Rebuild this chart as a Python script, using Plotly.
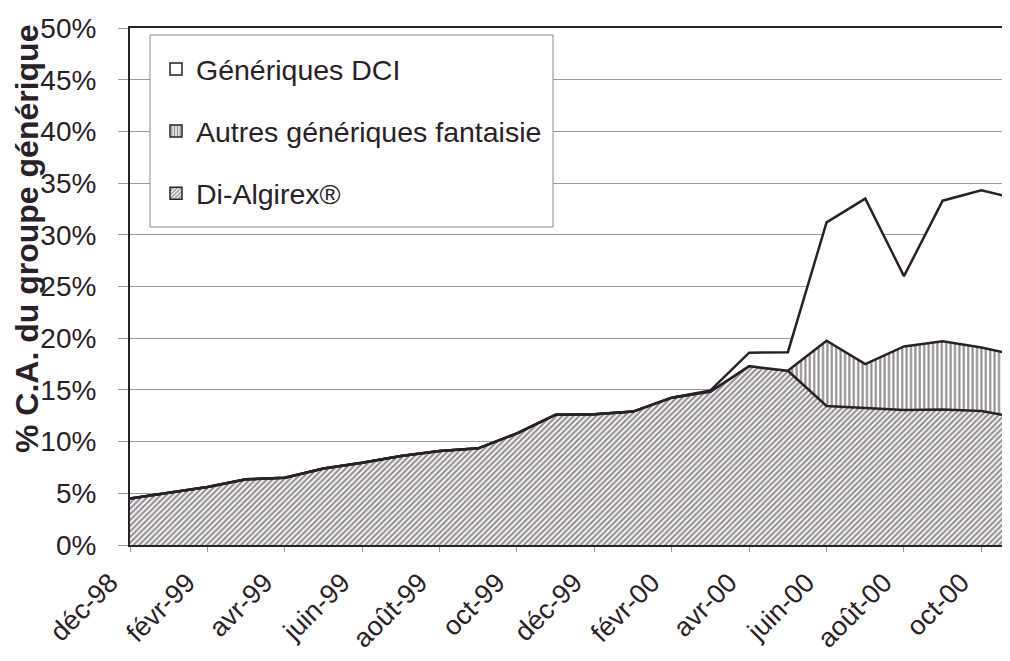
import plotly.graph_objects as go

months = ["déc-98", "janv-99", "févr-99", "mars-99", "avr-99", "mai-99", "juin-99",
          "juil-99", "août-99", "sept-99", "oct-99", "nov-99", "déc-99", "janv-00",
          "févr-00", "mars-00", "avr-00", "mai-00", "juin-00", "juil-00", "août-00",
          "sept-00", "oct-00", "nov-00"]

di_algirex = [4.5, 5.05, 5.6, 6.35, 6.5, 7.4, 7.95, 8.6, 9.1, 9.35, 10.8, 12.6,
              12.65, 12.9, 14.25, 14.85, 17.3, 16.85, 13.45, 13.25, 13.05, 13.1, 12.95, 12.3]
autres_fantaisie = [0, 0, 0, 0, 0, 0, 0, 0, 0, 0, 0, 0,
                    0, 0, 0, 0, 0, 0, 6.3, 4.25, 6.15, 6.6, 6.15, 6.0]
generiques_dci = [0, 0, 0, 0, 0, 0, 0, 0, 0, 0, 0, 0,
                  0, 0, 0, 0.1, 1.3, 1.8, 11.45, 16.0, 6.8, 13.6, 15.2, 15.1]

tick_labels = ["déc-98", "févr-99", "avr-99", "juin-99", "août-99", "oct-99",
               "déc-99", "févr-00", "avr-00", "juin-00", "août-00", "oct-00"]
y_ticks = [0, 5, 10, 15, 20, 25, 30, 35, 40, 45, 50]
y_tick_labels = ["0%", "5%", "10%", "15%", "20%", "25%", "30%", "35%", "40%", "45%", "50%"]

INK = "#2a2128"
FONT = "Liberation Sans, Arial, sans-serif"

PAT_DI = dict(shape="/", fgcolor=INK, bgcolor="white", size=4, solidity=0.55)
PAT_AU = dict(shape="|", fgcolor=INK, bgcolor="white", size=4.4, solidity=0.5)

fig = go.Figure()
fig.add_trace(go.Scatter(
    x=months, y=di_algirex, name="Di-Algirex®", stackgroup="s", showlegend=False,
    mode="lines", line=dict(color=INK, width=2.5),
    fillcolor="white", fillpattern=PAT_DI,
))
fig.add_trace(go.Scatter(
    x=months, y=autres_fantaisie, name="Autres génériques fantaisie", stackgroup="s",
    showlegend=False,
    mode="lines", line=dict(color=INK, width=2.5),
    fillcolor="white", fillpattern=PAT_AU,
))
fig.add_trace(go.Scatter(
    x=months, y=generiques_dci, name="Génériques DCI", stackgroup="s", showlegend=False,
    mode="lines", line=dict(color=INK, width=2.5),
    fillcolor="white",
))

# legend entries (square swatches)
legend_items = [("Génériques DCI", None, 1),
                ("Autres génériques fantaisie", PAT_AU, 2),
                ("Di-Algirex®", PAT_DI, 3)]
for name, pat, rank in legend_items:
    marker = dict(color="white", line=dict(color=INK, width=1.5))
    if pat is not None:
        marker["pattern"] = dict(shape=pat["shape"], fgcolor=INK, bgcolor="white",
                                 size=3.5, solidity=0.55)
    fig.add_trace(go.Bar(x=[months[0]], y=[None], name=name, marker=marker,
                         legendgroup=name, legendrank=rank, showlegend=True,
                         hoverinfo="skip"))

# legend box background
fig.add_shape(type="rect", xref="paper", yref="paper",
              x0=(150 - 130) / 880, x1=(553 - 130) / 880,
              y0=1 - (227 - 28) / 517, y1=1 - (35 - 28) / 517,
              fillcolor="white", line=dict(color="#8a8a8a", width=1), layer="above")

# y-axis title (placed as in the reference)
fig.add_annotation(text="<b>% C.A. du groupe générique</b>", xref="paper", yref="paper",
                   x=(27 - 130) / 880, y=1 - (239 - 28) / 517, textangle=-90,
                   showarrow=False, xanchor="center", yanchor="middle",
                   font=dict(size=32, family=FONT, color=INK))

# page body has an 8px margin: figure is 8px smaller and offset accordingly
fig.update_layout(
    width=1002, height=653,
    margin=dict(l=122, r=0, t=20, b=116),
    paper_bgcolor="white", plot_bgcolor="white",
    font=dict(family=FONT, size=27, color=INK),
    showlegend=True,
    legend=dict(x=(156 - 130) / 880, y=1 - (44 - 28) / 517, xanchor="left", yanchor="top",
                bgcolor="rgba(0,0,0,0)", borderwidth=0,
                traceorder="grouped", tracegroupgap=22,
                font=dict(size=28.5, family=FONT, color=INK)),
    xaxis=dict(
        type="category", range=[0, 22.74], automargin=False,
        tickmode="array", tickvals=tick_labels, ticktext=tick_labels,
        tickangle=-45, ticks="outside", ticklen=5, tickcolor="#999",
        ticklabelstandoff=4, ticklabelshift=-20,
        showgrid=False, showline=True, linecolor=INK, linewidth=2, mirror=True,
        tickfont=dict(size=27, family=FONT, color=INK),
    ),
    yaxis=dict(
        range=[0, 50], tickmode="array", tickvals=y_ticks, ticktext=y_tick_labels,
        automargin=False,
        ticks="outside", ticklen=10, tickcolor="#999", ticklabelstandoff=16,
        showgrid=True, gridcolor="#9a9a9a", gridwidth=1,
        showline=True, linecolor=INK, linewidth=2,
        zeroline=False,
        tickfont=dict(size=28, family=FONT, color=INK),
    ),
)

fig.write_html("out.html")
